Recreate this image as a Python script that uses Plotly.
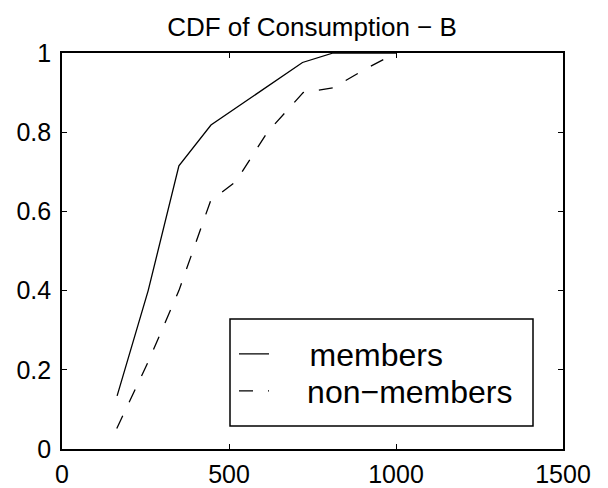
import plotly.graph_objects as go

members_x = [165, 258, 350, 446, 720, 812, 1000]
members_y = [0.134, 0.40, 0.715, 0.818, 0.976, 1.0, 1.0]
non_x = [164, 258, 350, 445, 520, 615, 722, 812, 905, 1000]
non_y = [0.052, 0.22, 0.40, 0.627, 0.675, 0.80, 0.90, 0.912, 0.958, 1.0]

x_ticks = [0, 500, 1000, 1500]
y_ticks = [0, 0.2, 0.4, 0.6, 0.8, 1]
y_tick_labels = ["0", "0.2", "0.4", "0.6", "0.8", "1"]

FONT = "Liberation Sans, Arial, sans-serif"
# the page body has an 8px margin, so the figure is drawn 8px in from the window corner
OFF = 8
PX_L, PX_R, PX_T, PX_B = 62 - OFF, 563 - OFF, 53 - OFF, 449 - OFF
W, H = 608 - OFF, 488 - OFF


def px(xpix):
    return (xpix - OFF - PX_L) / (PX_R - PX_L)


def py(ypix):
    return (PX_B - (ypix - OFF)) / (PX_B - PX_T)


fig = go.Figure()
fig.add_trace(go.Scatter(x=members_x, y=members_y, mode="lines", legend="legend",
                         name="\u00a0" * 4 + "members", line=dict(color="black", width=1.3)))
fig.add_trace(go.Scatter(x=non_x, y=non_y, mode="lines", legend="legend2",
                         name="\u00a0" * 3 + "\u2009" + "non\u2212members",
                         line=dict(color="black", width=1.3, dash="14px,15px")))

axis_common = dict(showgrid=False, zeroline=False, showline=True, linecolor="black",
                   linewidth=1.7, mirror="ticks", ticks="inside", ticklen=5,
                   tickcolor="black", tickwidth=1.2, automargin=False,
                   tickfont=dict(family=FONT, size=25, color="black"))

legend_common = dict(xanchor="left", yanchor="middle", borderwidth=0,
                     bgcolor="rgba(0,0,0,0)",
                     font=dict(family=FONT, size=32, color="black"))

fig.update_layout(
    width=W, height=H,
    margin=dict(l=PX_L, r=W - PX_R, t=PX_T, b=H - PX_B),
    paper_bgcolor="white", plot_bgcolor="white",
    title=dict(text="CDF of Consumption \u2212 B", x=(312 - OFF) / W, xanchor="center",
               y=1 - (27 - OFF) / H, yanchor="middle", yref="container",
               font=dict(family=FONT, size=26, color="black")),
    xaxis=dict(range=[0, 1500], tickvals=x_ticks, ticklabelstandoff=2, **axis_common),
    yaxis=dict(range=[0, 1], tickvals=y_ticks, ticktext=y_tick_labels, ticklabelstandoff=4, **axis_common),
    legend=dict(x=px(234), y=py(354), **legend_common),
    legend2=dict(x=px(234), y=py(391), **legend_common),
    shapes=[dict(type="rect", xref="paper", yref="paper",
                 x0=px(230), x1=px(533), y0=py(426), y1=py(319),
                 line=dict(color="black", width=1.5), fillcolor="rgba(0,0,0,0)", layer="above")],
    showlegend=True,
)

fig.write_html("out.html")
